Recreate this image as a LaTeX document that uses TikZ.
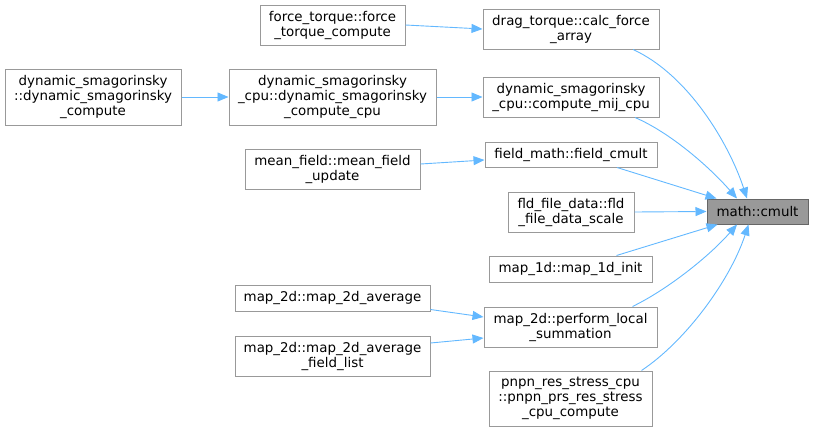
\documentclass[tikz,border=0pt]{standalone}
\usepackage{fontspec}
\setmainfont{DejaVu Sans}
\usetikzlibrary{arrows.meta}
\definecolor{edgec}{HTML}{63B8FF}
\definecolor{boxc}{HTML}{999999}
\definecolor{darkb}{HTML}{666666}
\begin{document}
\begin{tikzpicture}[x=1pt,y=-1pt,
  fn/.style={draw=boxc,line width=1pt,fill=white,inner sep=0pt,align=center,
    font=\fontsize{13.4}{15}\selectfont},
  hl/.style={fn,fill=boxc,draw=darkb},
  call/.style={draw=edgec,line width=0.9pt,-{Triangle[length=11pt,width=9pt]},
    shorten >=0pt}]
\useasboundingbox (0,0) rectangle (813,431);

\node[hl,minimum width=101pt,minimum height=25pt] (cmult) at (757.5,211.5) {math::cmult};
\node[fn,minimum width=176pt,minimum height=40pt] (drag) at (571,29) {drag\_torque::calc\_force\\\_array};
\node[fn,minimum width=145pt,minimum height=40pt] (ft) at (332.5,25) {force\_torque::force\\\_torque\_compute};
\node[fn,minimum width=176pt,minimum height=56pt] (dsc) at (93,97) {dynamic\_smagorinsky\\::dynamic\_smagorinsky\\\_compute};
\node[fn,minimum width=207pt,minimum height=56pt] (dcpu) at (332.5,97) {dynamic\_smagorinsky\\\_cpu::dynamic\_smagorinsky\\\_compute\_cpu};
\node[fn,minimum width=176pt,minimum height=40pt] (mij) at (571,97) {dynamic\_smagorinsky\\\_cpu::compute\_mij\_cpu};
\node[fn,minimum width=175pt,minimum height=40pt] (mf) at (332.5,169) {mean\_field::mean\_field\\\_update};
\node[fn,minimum width=172pt,minimum height=25pt] (fcm) at (571,154.5) {field\_math::field\_cmult};
\node[fn,minimum width=126pt,minimum height=40pt] (fld) at (571,212) {fld\_file\_data::fld\\\_file\_data\_scale};
\node[fn,minimum width=163pt,minimum height=26pt] (m1d) at (570.5,269) {map\_1d::map\_1d\_init};
\node[fn,minimum width=195pt,minimum height=26pt] (m2a) at (332.5,298) {map\_2d::map\_2d\_average};
\node[fn,minimum width=173pt,minimum height=40pt] (pls) at (570.5,327) {map\_2d::perform\_local\\\_summation};
\node[fn,minimum width=195pt,minimum height=40pt] (m2f) at (332.5,356) {map\_2d::map\_2d\_average\\\_field\_list};
\node[fn,minimum width=163pt,minimum height=55pt] (pnpn) at (570.5,398.5) {pnpn\_res\_stress\_cpu\\::pnpn\_prs\_res\_stress\\\_cpu\_compute};

% edges into math::cmult
\draw[call] ([xshift=62pt]drag.south) .. controls +(55,25) and +(-18,-55) .. ([xshift=-10.5pt]cmult.north);
\draw[call] ([xshift=64pt]mij.south) .. controls +(35,15) and +(-28,-32) .. ([xshift=-20.5pt]cmult.north);
\draw[call] ([xshift=46pt]fcm.south) -- ([xshift=-41pt]cmult.north);
\draw[call] (fld.east) -- (cmult.west);
\draw[call] ([xshift=46pt]m1d.north) -- ([xshift=-40pt]cmult.south);
\draw[call] ([xshift=62pt]pls.north) .. controls +(35,-17) and +(-28,32) .. ([xshift=-20.5pt]cmult.south);
\draw[call] ([xshift=71pt]pnpn.north) .. controls +(45,-30) and +(-18,55) .. ([xshift=-9pt]cmult.south);

% other edges
\draw[call] (ft.east) -- (drag.west);
\draw[call] (dsc.east) -- (dcpu.west);
\draw[call] (dcpu.east) -- (mij.west);
\draw[call] ([yshift=5pt]mf.east) -- ([yshift=-5.5pt]fcm.west);
\draw[call] ([yshift=2pt]m2a.south east) -- ([yshift=10pt]pls.west);
\draw[call] ([yshift=13pt]m2f.east) -- ([yshift=-11pt]pls.west);
\end{tikzpicture}
\end{document}
